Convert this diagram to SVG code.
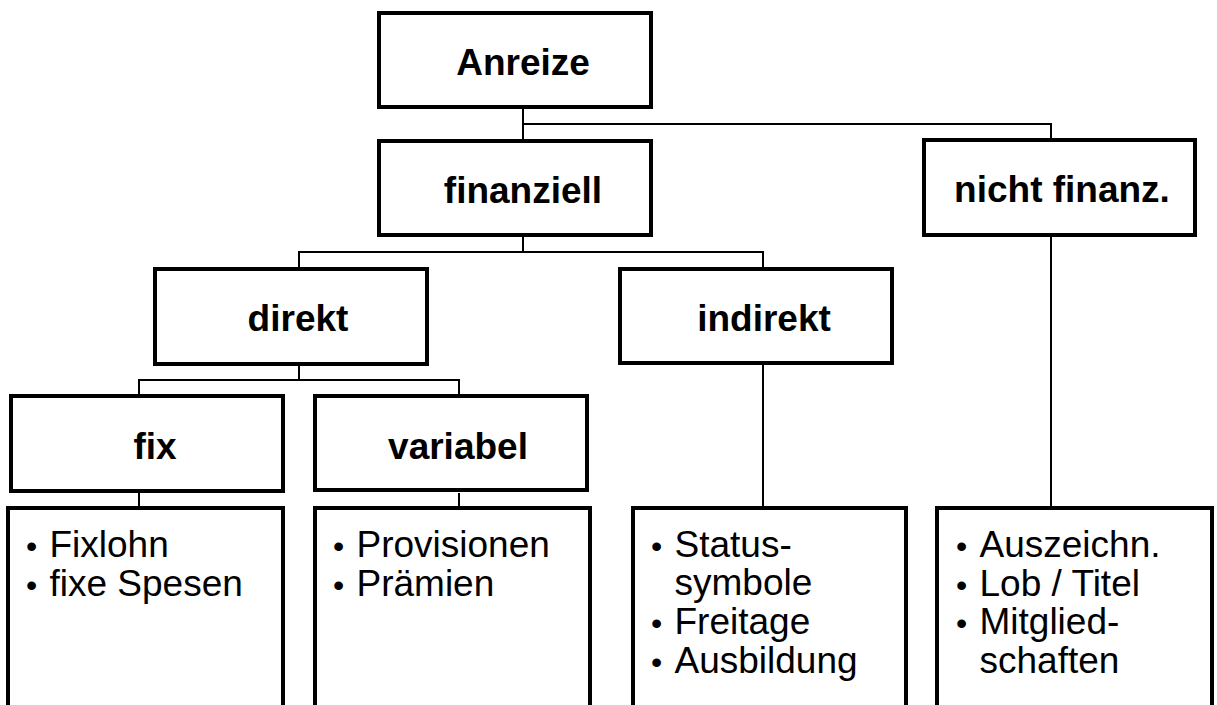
<svg xmlns="http://www.w3.org/2000/svg" width="1217" height="705" viewBox="0 0 1217 705">
  <style>
    .box { fill: #ffffff; stroke: #000000; stroke-width: 4; }
    .wire { fill: none; stroke: #000000; stroke-width: 2; }
    .head { font-family: "Liberation Sans", Arial, sans-serif; font-weight: bold; font-size: 37px; fill: #000000; text-anchor: middle; }
    .item { font-family: "Liberation Sans", Arial, sans-serif; font-size: 37px; fill: #000000; }
    .dot { font-size: 32px; }
  </style>
  <rect x="0" y="0" width="1217" height="705" fill="#ffffff"/>

  <!-- tree connectors -->
  <g id="connectors" class="wire">
    <path d="M523 109 V139"/>
    <path d="M523 124 H1051 V139"/>
    <path d="M523 237 V252"/>
    <path d="M299 267 V252 H763 V267"/>
    <path d="M299 366 V380"/>
    <path d="M139 394 V380 H459 V394"/>
    <path d="M139 493 V507"/>
    <path d="M459 493 V507"/>
    <path d="M763 365 V507"/>
    <path d="M1051 237 V507"/>
  </g>

  <g id="anreize">
    <rect class="box" x="379" y="13" width="272" height="94"/>
    <text class="head" x="523" y="75">Anreize</text>
  </g>

  <g id="finanziell">
    <rect class="box" x="379" y="141" width="272" height="94"/>
    <text class="head" x="523" y="203">finanziell</text>
  </g>

  <g id="nicht-finanziell">
    <rect class="box" x="924" y="140" width="271" height="95"/>
    <text class="head" x="1062" y="202">nicht finanz.</text>
  </g>

  <g id="direkt">
    <rect class="box" x="155" y="269" width="272" height="95"/>
    <text class="head" x="298" y="331">direkt</text>
  </g>

  <g id="indirekt">
    <rect class="box" x="620" y="269" width="272" height="94"/>
    <text class="head" x="764" y="331">indirekt</text>
  </g>

  <g id="fix">
    <rect class="box" x="11" y="396" width="272" height="95"/>
    <text class="head" x="155" y="459">fix</text>
  </g>

  <g id="variabel">
    <rect class="box" x="315" y="396" width="272" height="94"/>
    <text class="head" x="458" y="459">variabel</text>
  </g>

  <!-- example lists, open at the bottom -->
  <g id="liste-fix">
    <rect class="box" x="8" y="508" width="275" height="230"/>
    <text class="item" x="26" y="557"><tspan class="dot">• </tspan><tspan x="49.5">Fixlohn</tspan></text>
    <text class="item" x="26" y="596"><tspan class="dot">• </tspan><tspan x="49.5">fixe Spesen</tspan></text>
  </g>

  <g id="liste-variabel">
    <rect class="box" x="315" y="508" width="275" height="230"/>
    <text class="item" x="333" y="557"><tspan class="dot">• </tspan><tspan x="356.5">Provisionen</tspan></text>
    <text class="item" x="333" y="596"><tspan class="dot">• </tspan><tspan x="356.5">Prämien</tspan></text>
  </g>

  <g id="liste-indirekt">
    <rect class="box" x="633" y="508" width="273" height="230"/>
    <text class="item" x="651" y="557"><tspan class="dot">• </tspan><tspan x="674.5">Status-</tspan></text>
    <text class="item" x="674.5" y="595">symbole</text>
    <text class="item" x="651" y="634"><tspan class="dot">• </tspan><tspan x="674.5">Freitage</tspan></text>
    <text class="item" x="651" y="673"><tspan class="dot">• </tspan><tspan x="674.5">Ausbildung</tspan></text>
  </g>

  <g id="liste-nicht-finanziell">
    <rect class="box" x="937" y="508" width="275" height="230"/>
    <text class="item" x="956" y="557"><tspan class="dot">• </tspan><tspan x="979.5">Auszeichn.</tspan></text>
    <text class="item" x="956" y="596"><tspan class="dot">• </tspan><tspan x="979.5">Lob / Titel</tspan></text>
    <text class="item" x="956" y="634"><tspan class="dot">• </tspan><tspan x="979.5">Mitglied-</tspan></text>
    <text class="item" x="979.5" y="673">schaften</text>
  </g>
</svg>
